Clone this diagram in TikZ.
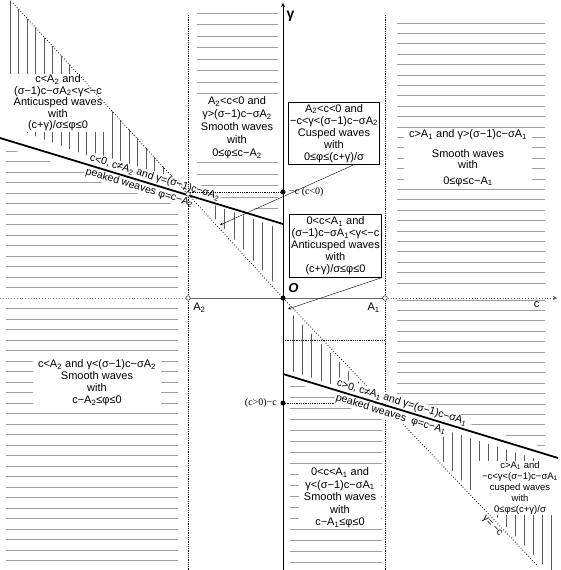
\documentclass[tikz,border=0pt]{standalone}
\usepackage{fontspec}
\setmainfont{Liberation Sans}
\newfontfamily\ptfont{Liberation Serif}
\usetikzlibrary{calc}

\newcommand{\Aone}{A\textsubscript{1}}
\newcommand{\Atwo}{A\textsubscript{2}}

\tikzset{
	>=stealth,
	hatch/.style={gray!75, line width=0.8pt},
	vhatch/.style={black!65, line width=0.8pt},
	region/.style={align=center, fill=white, inner xsep=5pt, inner ysep=1pt, font=\fontsize{11}{12.5}\selectfont},
	casebox/.style={region, draw, thick, inner xsep=2pt, inner ysep=2pt, font=\fontsize{11}{12}\selectfont},
	peak/.style={sloped, fill=white, inner sep=1pt, font=\fontsize{10.5}{12}\selectfont},
	dotline/.style={densely dotted, thick},
	pointdot/.style={circle, fill, inner sep=0pt, minimum size=5pt},
	opendot/.style={circle, draw, fill=white, inner sep=0pt, minimum size=4.5pt},
	ptlbl/.style={font=\ptfont\fontsize{10}{12}\selectfont},
	axlbl/.style={font=\fontsize{11}{12}\selectfont},
}

\begin{document}
\begin{tikzpicture}[x=1pt,y=1pt]
	\useasboundingbox (-283,-272) rectangle (278,298);

	%axis
	\coordinate (o) at (0,0);
	\coordinate (a2) at (-95,0);
	\coordinate (a1) at (102,0);
	\coordinate (cl) at (-283,0);
	\coordinate[label={[axlbl, xshift=-14pt]below left:c}] (cr) at (274,0);
	\coordinate (yb) at (0,-272);
	\coordinate[label={[font=\bfseries\fontsize{14}{15}\selectfont, yshift=-5pt]below right:γ}] (yt) at (0,295);

	%boundary lines
	\coordinate (dg1) at (-270,295);
	\coordinate (dg2) at (254,-267);
	\coordinate (tl1) at (-283,160);
	\coordinate (tl2) at (0,74);
	\coordinate (tr1) at (0,-76);
	\coordinate (tr2) at (275,-160);
	\coordinate (a2t) at (-95,283);
	\coordinate (a2b) at (-95,-272);
	\coordinate (a1t) at (102,283);
	\coordinate (a1b) at (102,-272);
	\coordinate (cneg) at (0,106);
	\coordinate (cneg2) at (-95,106);
	\coordinate (cmid) at (0,-42);
	\coordinate (cmid2) at (102,-42);
	\coordinate (cpos) at (0,-105);
	\coordinate (cpos2) at (102,-105);
	\coordinate (b1tip) at (-63,73);
	\coordinate (b2tip) at (5,-11);

	%vertical hatching
	\begin{scope}
		\clip (-283,309) -- (-95,105) -- (-283,175) -- cycle;
		\foreach \x in {-273,-264.5,...,-100} \draw[vhatch] (\x,100) -- (\x,310);
	\end{scope}
	\begin{scope}
		\clip (-86,99) -- (-4,70) -- (-4,10) -- cycle;
		\foreach \x in {-68,-58.5,...,-10} \draw[vhatch] (\x,0) -- (\x,110);
	\end{scope}
	\begin{scope}
		\clip (5,-12) -- (5,-72) -- (92,-100) -- cycle;
		\foreach \x in {10,19.3,...,90} \draw[vhatch] (\x,0) -- (\x,-110);
	\end{scope}
	\begin{scope}
		\clip (115,-117) -- (275,-168) -- (275,-282) -- cycle;
		\foreach \x in {160,169,...,272} \draw[vhatch] (\x,-100) -- (\x,-290);
	\end{scope}

	%horizontal hatching
	\begin{scope}
		\clip (-277,150) -- (-105,97) -- (-105,-266) -- (-277,-266) -- cycle;
		\foreach \y in {10.5,21,...,150} \draw[hatch] (-283,\y) -- (-100,\y);
		\foreach \y in {-10.5,-21,...,-266} \draw[hatch] (-283,\y) -- (-100,\y);
	\end{scope}
	\begin{scope}
		\clip (-86,287) -- (-5,287) -- (-5,82) -- (-86,108) -- cycle;
		\foreach \y in {285,273.5,...,80} \draw[hatch] (-90,\y) -- (0,\y);
	\end{scope}
	\begin{scope}
		\clip (114,285) -- (262,285) -- (262,-150) -- (114,-103) -- cycle;
		\foreach \y in {15,25.4,...,285} \draw[hatch] (110,\y) -- (270,\y);
		\foreach \y in {-2,-12.4,...,-160} \draw[hatch] (110,\y) -- (270,\y);
	\end{scope}
	\begin{scope}
		\clip (7,-84) -- (99,-112) -- (99,-266) -- (7,-266) -- cycle;
		\foreach \y in {-88,-99,...,-266} \draw[hatch] (0,\y) -- (102,\y);
	\end{scope}

	%regions
	\node[region, font=\fontsize{11}{11.5}\selectfont] (anticl) at (-225,195) {c<\Atwo{} and\\(σ−1)c−σ\Atwo{}<γ<−c\\Anticusped waves\\with\\(c+γ)/σ≤φ≤0};
	\node[region, font=\fontsize{11}{13}\selectfont] (smootha2) at (-46,170) {\Atwo{}<c<0 and\\γ>(σ−1)c−σ\Atwo\\Smooth waves\\with\\0≤φ≤c−\Atwo};
	\node[casebox] (cuspbox) at (51,164.5) {\Atwo{}<c<0 and\\−c<γ<(σ−1)c−σ\Atwo\\Cusped waves\\with\\0≤φ≤(c+γ)/σ};
	\node[region] (smootha1) at (185,140) {c>\Aone{} and γ>(σ−1)c−σ\Aone\\[7pt]Smooth waves\\[-1.5pt]with\\[3.5pt]0≤φ≤c−\Aone};
	\node[casebox] (anticbox) at (52.5,52) {0<c<\Aone{} and\\(σ−1)c−σ\Aone{}<γ<−c\\Anticusped waves\\with\\(c+γ)/σ≤φ≤0};
	\node[region, font=\fontsize{11}{12}\selectfont] (smoothl) at (-186,-85) {c<\Atwo{} and γ<(σ−1)c−σ\Atwo\\Smooth waves\\with\\c−\Atwo≤φ≤0};
	\node[region] (smoothm) at (57,-200) {0<c<\Aone{} and\\γ<(σ−1)c−σ\Aone\\Smooth waves\\with\\c−\Aone≤φ≤0};
	\node[region, font=\fontsize{9.5}{11}\selectfont] (cuspr) at (237,-190) {c>\Aone{} and\\−c<γ<(σ−1)c−σ\Aone\\cusped waves\\with\\0≤φ≤(c+γ)/σ};

	%peaked on the left
	\path (tl1) -- (tl2)
		node[peak, pos=.54, above=1pt] (peakla) {c<0, c≠\Atwo{} and γ=(σ−1)c−σ\Atwo}
		node[peak, pos=.5, below=1pt] (peaklb) {peaked weaves φ=c−\Atwo};
	\path (o) -- (dg2) node[peak, pos=.84, below=1pt, font=\fontsize{10}{12}\selectfont] (gline) {γ= −c};

	%dotted lines
	\draw[dotline] (a2t) -- (a2b);
	\draw[dotline] (a1t) -- (a1b);
	\draw[dotted, thick] (dg1) -- (o) -- (dg2);
	\draw[dotline] (cneg2) -- (cneg);
	\draw[dotline] (cmid) -- (cmid2);
	\draw[dotline] (cpos) -- (cpos2);

	%peaked on the right
	\path (tr1) -- (tr2)
		node[peak, pos=.425, above=1pt] (peakra) {c>0, c≠\Aone{} and γ=(σ−1)c−σ\Aone}
		node[peak, pos=.4, below=1pt] (peakrb) {peaked weaves\ \ φ=c−\Aone};

	\draw[line width=1.8pt] (tl1) -- (tl2);
	\draw[line width=1.8pt] (tr1) -- (tr2);

	\draw[gray, dotted, thick] (cl) -- (a2);
	\draw[gray!80!black, thick] (a2) -- (a1);
	\draw[->, gray!70!black, dotted, thick] (a1) -- (cr);
	\draw[->, thick] (yb) -- (yt);

	%points
	\node[pointdot, label={[font=\bfseries\itshape\fontsize{13}{14}\selectfont]above right:O}] (po) at (o) {};
	\node[opendot, label={[axlbl]below right:\Atwo}] (pa2) at (a2) {};
	\node[opendot, label={[axlbl]below left:\Aone}] (pa1) at (a1) {};
	\node[opendot] (pmeet) at (-95,104) {};
	\node[pointdot, label={[ptlbl]right:−c (c<0)}] (pcn) at (cneg) {};
	\node[pointdot, label={[ptlbl]left:(c>0)−c}] (pcp) at (cpos) {};

	\draw[->] ($(cuspbox.south east)+(-27,0)$) -- (b1tip);
	\draw[->] (anticbox.south east) -- (b2tip);

\end{tikzpicture}
\end{document}
